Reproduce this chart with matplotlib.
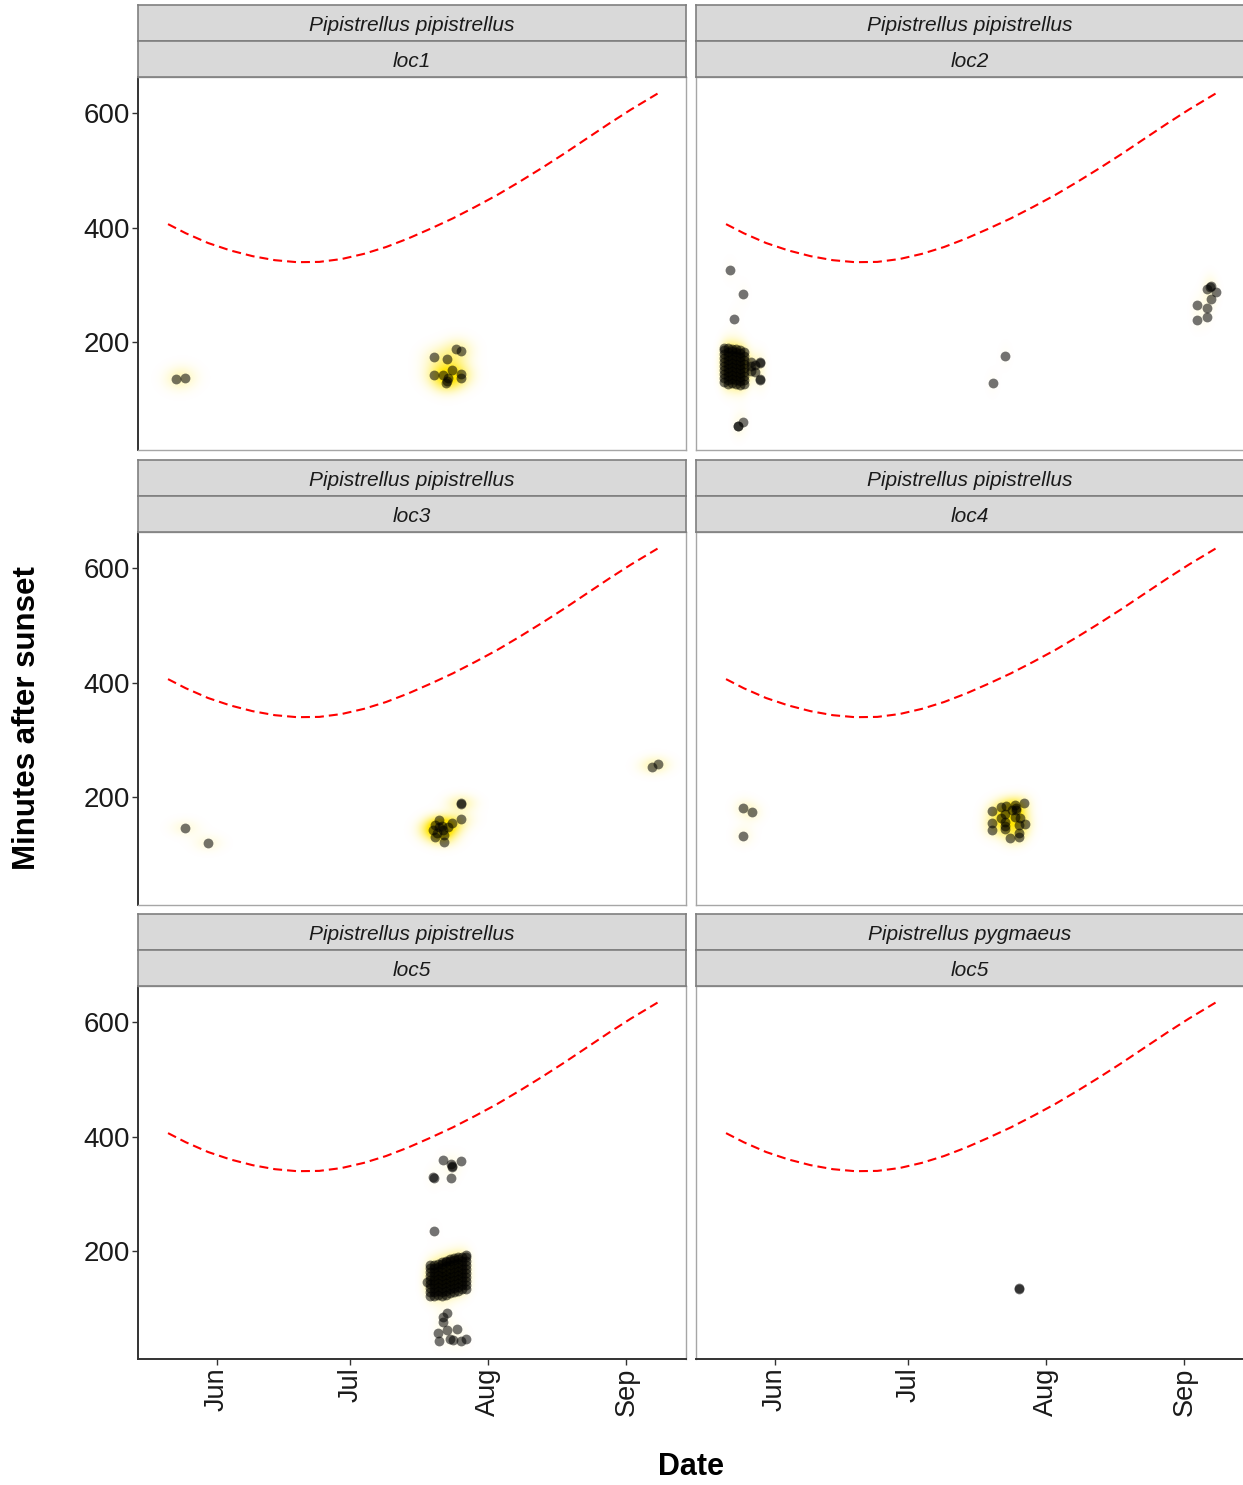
import numpy as np
import matplotlib
matplotlib.use('Agg')
import matplotlib.pyplot as plt
from datetime import date

plt.rcParams['font.family'] = ['Liberation Sans', 'DejaVu Sans']

# night length (sunrise, minutes after sunset) by day of year
night_day = [141, 145, 150, 155, 160, 165, 170, 175, 180, 185, 190, 195,
             200, 205, 210, 215, 220, 225, 230, 235, 240, 245, 251]
night_min = [406, 390, 373, 360, 350, 343, 339.5, 340, 345, 354, 366, 381,
             398, 416, 436, 457, 480, 504, 529, 555, 581, 606, 634]

# facet labels
species = ['Pipistrellus pipistrellus'] * 5 + ['Pipistrellus pygmaeus']
locations = ['loc1', 'loc2', 'loc3', 'loc4', 'loc5', 'loc5']

# bat passes: day of year / minutes after sunset
loc1_day = [142.7, 144.8, 200.8, 203.8, 205.7, 206.9, 204.8, 200.8, 202.9,
            203.8, 206.8, 206.8, 203.9, 203.5]
loc1_min = [135, 138, 174, 171, 187, 185, 152, 143, 142, 132, 144, 138, 138, 128]

loc2_day = [141.8, 144.8, 142.9, 143.7, 143.6, 144.8, 203.8, 200.9, 246.9,
            249.0, 250.0, 251.0, 249.0, 250.0, 249.8, 246.9, 249.0]
loc2_min = [325, 284, 240, 54, 53, 61, 176, 128, 265, 259, 275, 287, 292,
            298, 296, 239, 244]
loc2_blob_day = [140.6, 141.5, 142.4, 143.3, 144.2, 145.1, 146.6, 147.6, 148.7]
loc2_blob_min = [
    [130, 137, 144, 151, 158, 165, 172, 179, 186, 190],
    [127, 134, 141, 148, 155, 162, 169, 176, 183, 189],
    [129, 136, 143, 150, 157, 164, 171, 178, 185, 188],
    [126, 133, 140, 147, 154, 161, 168, 175, 182, 187],
    [125, 132, 139, 146, 153, 160, 167, 174, 181, 186],
    [127, 134, 141, 148, 155, 162, 169, 176, 183],
    [150, 158, 165],
    [148, 160],
    [133, 135, 164, 166],
]

loc3_day = [144.7, 149.9, 206.9, 206.8, 206.9, 201.9, 200.9, 204.8, 200.5,
            202.8, 201.1, 203.0, 203.0, 204.0, 202.0, 201.5, 202.5, 249.8, 251.1]
loc3_min = [146, 119, 188, 190, 161, 160, 151, 154, 142, 142, 131, 134, 122,
            147, 147, 138, 150, 253, 258]

loc4_day = [144.7, 146.9, 144.8, 200.8, 202.8, 204.0, 206.0, 207.9, 206.2,
            202.8, 203.8, 206.0, 207.1, 200.8, 200.8, 203.8, 206.8, 208.1,
            206.8, 204.8, 206.8, 203.8, 205.3, 206.1, 203.6]
loc4_min = [181, 173, 132, 176, 183, 184, 186, 189, 177, 164, 157, 165, 164,
            155, 142, 145, 151, 153, 137, 128, 131, 171, 177, 180, 150]

loc5_day = [202.7, 204.7, 206.8, 200.6, 200.8, 204.7, 204.9, 204.8, 200.8,
            199.1, 202.7, 203.6, 202.7, 201.7, 202.0, 203.8, 204.4, 205.9,
            206.8, 207.9, 205.1]
loc5_min = [359, 352, 357, 330, 327, 327, 347, 349, 235, 146, 85, 91, 76, 57,
            43, 62, 47, 63, 42, 47, 45]
loc5_blob_day = [199.8, 200.7, 201.6, 202.5, 203.4, 204.3, 205.2, 206.1, 207.0, 207.9]
loc5_blob_min = [
    [122, 129, 136, 143, 150, 157, 164, 171, 175],
    [121, 128, 135, 142, 149, 156, 163, 170, 176],
    [123, 130, 137, 144, 151, 158, 165, 172, 178],
    [122, 129, 136, 143, 150, 157, 164, 171, 178, 181],
    [124, 131, 138, 145, 152, 159, 166, 173, 180, 183],
    [126, 133, 140, 147, 154, 161, 168, 175, 182, 186],
    [128, 135, 142, 149, 156, 163, 170, 177, 184, 187],
    [130, 137, 144, 151, 158, 165, 172, 179, 186, 189],
    [134, 141, 148, 155, 162, 169, 176, 183, 190],
    [133, 140, 147, 154, 161, 168, 175, 182, 189, 193],
]

pyg5_day = [206.9, 206.8]
pyg5_min = [133, 135]

# shared axis limits (day of year, minutes)
xlim = (134.25, 257.4)
ylim = (11.4, 663.0)


def with_blob(days, mins, blob_day, blob_min):
    d = list(days)
    m = list(mins)
    for bd, col in zip(blob_day, blob_min):
        d += [bd] * len(col)
        m += col
    return np.array(d), np.array(m)


panels = [
    (np.array(loc1_day), np.array(loc1_min)),
    with_blob(loc2_day, loc2_min, loc2_blob_day, loc2_blob_min),
    (np.array(loc3_day), np.array(loc3_min)),
    (np.array(loc4_day), np.array(loc4_min)),
    with_blob(loc5_day, loc5_min, loc5_blob_day, loc5_blob_min),
    (np.array(pyg5_day), np.array(pyg5_min)),
]

month_ticks = [date(2019, m, 1).timetuple().tm_yday for m in (6, 7, 8, 9)]
month_labels = [date(2019, m, 1).strftime('%b') for m in (6, 7, 8, 9)]


def bw_nrd(v):
    q1, q3 = np.percentile(v, [25, 75])
    h = (q3 - q1) / 1.34
    return 4 * 1.06 * min(np.std(v, ddof=1), h) * len(v) ** (-0.2)


def draw_glow(ax, xs, ys):
    # yellow density halo behind the points
    if len(xs) < 3:
        return
    hx = bw_nrd(xs) / 3.2
    hy = bw_nrd(ys) / 3.2
    gx = np.linspace(xlim[0], xlim[1], 500)
    gy = np.linspace(ylim[0], ylim[1], 400)
    kx = np.exp(-0.5 * ((gx[None, :] - xs[:, None]) / hx) ** 2)
    ky = np.exp(-0.5 * ((gy[None, :] - ys[:, None]) / hy) ** 2)
    dens = ky.T @ kx / (2 * np.pi * hx * hy * len(xs))
    alpha = np.clip(dens / 0.0015, 0, 1) ** 1.3
    img = np.zeros(dens.shape + (4,))
    img[..., 0] = 1.0
    img[..., 1] = 0.9
    img[..., 2] = 0.0
    img[..., 3] = alpha
    ax.imshow(img, extent=(xlim[0], xlim[1], ylim[0], ylim[1]), origin='lower',
              aspect='auto', interpolation='bilinear', zorder=1)


W, H = 1243, 1485
fig = plt.figure(figsize=(W / 100, H / 100), dpi=100)


def box(x0, y0, x1, y1):
    return [x0 / W, 1 - y1 / H, (x1 - x0) / W, (y1 - y0) / H]


def strip(x0, x1, y0, y1, label):
    sax = fig.add_axes(box(x0, y0, x1, y1))
    sax.set_facecolor('#D9D9D9')
    sax.set_xticks([])
    sax.set_yticks([])
    for s in sax.spines.values():
        s.set_color('#7F7F7F')
        s.set_linewidth(1.2)
    sax.text(0.5, 0.44, label, ha='center', va='center', style='italic',
             fontsize=15, color='#1A1A1A', transform=sax.transAxes)


cols = [(138, 686), (696, 1244)]
tops = [77, 532, 986]
ph = 373

for i, (xs, ys) in enumerate(panels):
    r, c = divmod(i, 2)
    x0, x1 = cols[c]
    top = tops[r]
    ax = fig.add_axes(box(x0, top, x1, top + ph))
    strip(x0, x1, top - 72, top - 36, species[i])
    strip(x0, x1, top - 36, top, locations[i])

    draw_glow(ax, xs, ys)
    ax.scatter(xs, ys, s=50, color='black', alpha=0.55, linewidths=0, zorder=3)
    ax.plot(night_day, night_min, color='red', lw=1.5, dashes=(4.3, 2.4), zorder=4)

    ax.set_xlim(xlim)
    ax.set_ylim(ylim)
    for s in ax.spines.values():
        s.set_color('#A6A6A6')
        s.set_linewidth(1.0)

    ax.set_yticks([200, 400, 600])
    ax.set_xticks(month_ticks)
    ax.tick_params(length=4, width=1.0, color='#333333', labelsize=20,
                   labelcolor='#1A1A1A', pad=2)
    if c == 0:
        ax.spines['left'].set_color('#333333')
        ax.spines['left'].set_linewidth(1.4)
    else:
        ax.tick_params(axis='y', left=False, labelleft=False)
    if r == 2:
        ax.spines['bottom'].set_color('#333333')
        ax.spines['bottom'].set_linewidth(1.4)
        ax.set_xticklabels(month_labels, rotation=90)
        ax.tick_params(axis='x', labelsize=19.5)
    else:
        ax.tick_params(axis='x', bottom=False, labelbottom=False)

fig.text(27 / W, 1 - 718 / H, 'Minutes after sunset', rotation=90, ha='center',
         va='center', fontsize=22.5, fontweight='bold')
fig.text(691 / W, 1 - 1467 / H, 'Date', ha='center', va='center',
         fontsize=22, fontweight='bold')

plt.savefig('out.png', dpi=100)
